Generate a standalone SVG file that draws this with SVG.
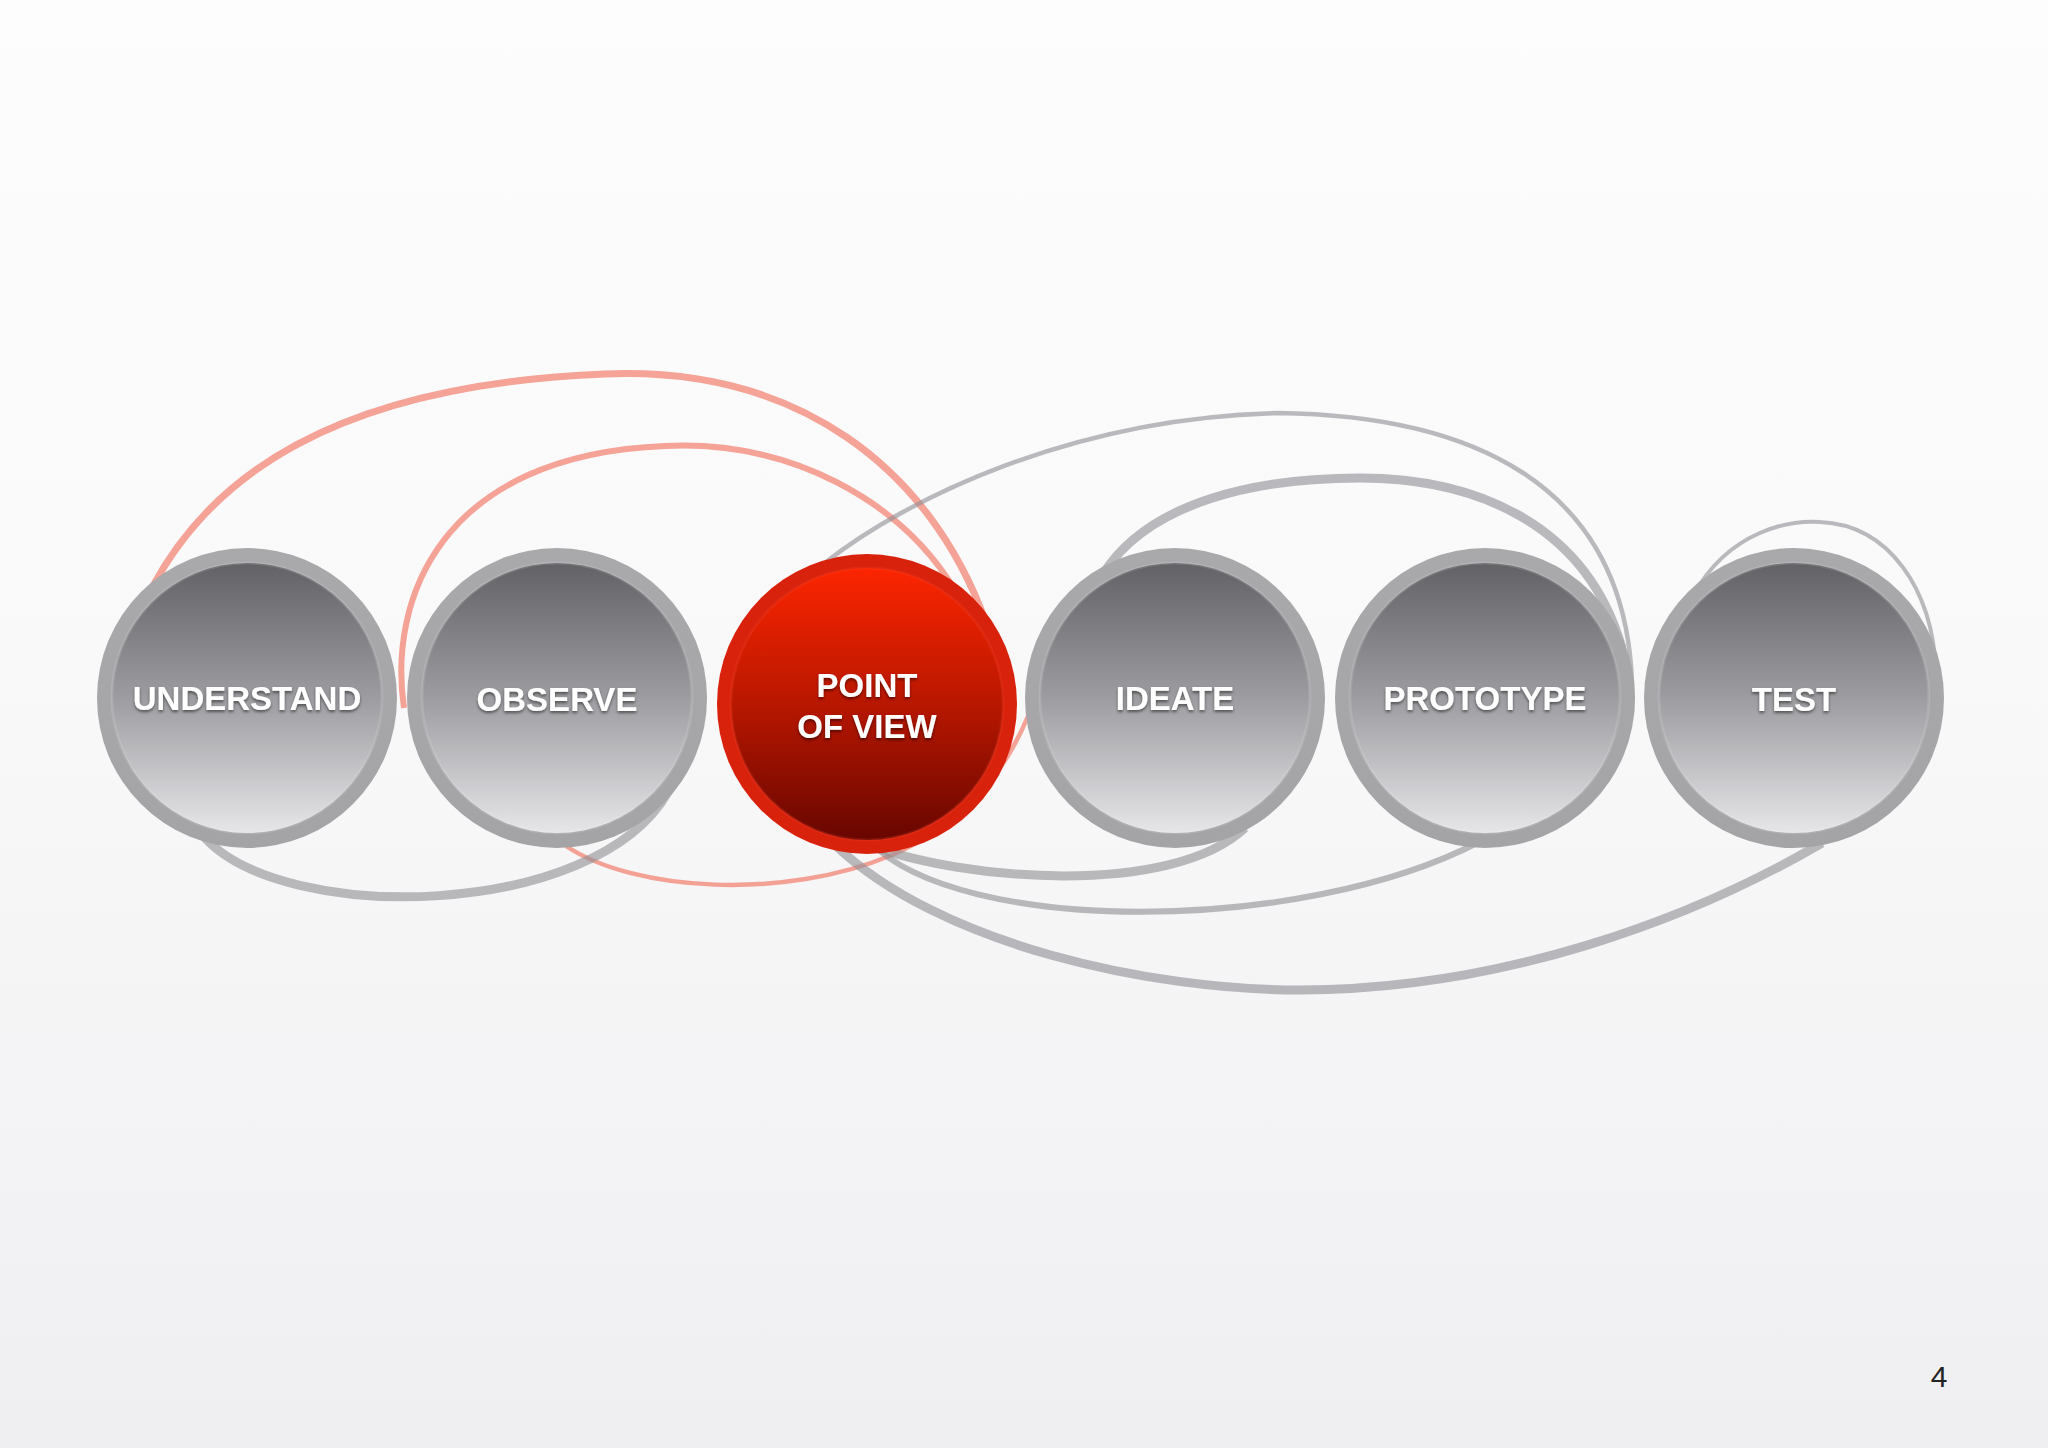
<svg xmlns="http://www.w3.org/2000/svg" width="2048" height="1448" viewBox="0 0 2048 1448">
  <defs>
    <linearGradient id="bg" x1="0" y1="0" x2="0" y2="1">
      <stop offset="0" stop-color="#fdfdfe"/>
      <stop offset="0.45" stop-color="#f9f9fa"/>
      <stop offset="1" stop-color="#efeef0"/>
    </linearGradient>
    <linearGradient id="grayFill" x1="0" y1="0" x2="0" y2="1">
      <stop offset="0" stop-color="#626165"/>
      <stop offset="0.5" stop-color="#9d9ca0"/>
      <stop offset="1" stop-color="#e6e5e8"/>
    </linearGradient>
    <linearGradient id="grayRing" x1="0" y1="0" x2="0" y2="1">
      <stop offset="0" stop-color="#a9a8ab"/>
      <stop offset="1" stop-color="#a4a3a6"/>
    </linearGradient>
    <linearGradient id="redFill" x1="0" y1="0" x2="0" y2="1">
      <stop offset="0" stop-color="#fc2500"/>
      <stop offset="0.5" stop-color="#b81700"/>
      <stop offset="1" stop-color="#680600"/>
    </linearGradient>
    <filter id="ts" x="-10%" y="-30%" width="120%" height="170%">
      <feDropShadow dx="0" dy="2" stdDeviation="1.6" flood-color="#000" flood-opacity="0.5"/>
    </filter>
    <style>
      .ring { fill: url(#grayRing); }
      .core { fill: url(#grayFill); stroke: #ffffff; stroke-opacity: 0.12; stroke-width: 3; }
      .rring { fill: #d9220c; }
      .rcore { fill: url(#redFill); stroke: #ff6040; stroke-opacity: 0.15; stroke-width: 3; }
      .lbl { font-family: "Liberation Sans", Arial, sans-serif; font-weight: bold; font-size: 33px; fill: #ffffff; text-anchor: middle; filter: url(#ts); }
      .red { fill: none; stroke: rgb(242,108,88); stroke-opacity: 0.62; stroke-linecap: butt; }
      .gry { fill: none; stroke: rgb(145,144,148); stroke-opacity: 0.62; stroke-linecap: butt; }
      .pg { font-family: "Liberation Sans", Arial, sans-serif; font-size: 30px; fill: #222222; text-anchor: middle; }
    </style>
  </defs>

  <rect x="0" y="0" width="2048" height="1448" fill="url(#bg)"/>

  <g id="connectors">
    <path class="red" stroke-width="7" d="M 153 586 C 210 480, 330 385, 605 374 C 800 366, 930 470, 985 620"/>
    <path class="red" stroke-width="6" d="M 404 708 C 388 600, 440 455, 665 446 C 790 440, 900 500, 955 590"/>
    <path class="red" stroke-width="4.5" d="M 566 846 C 635 892, 785 900, 892 855 C 950 830, 1000 785, 1028 716"/>
    <path class="gry" stroke-width="9" d="M 205 838 C 285 925, 595 920, 668 792"/>
    <path class="gry" stroke-width="4.5" d="M 826 562 C 905 500, 1070 418, 1277 413 C 1450 415, 1640 470, 1632 712"/>
    <path class="gry" stroke-width="9" d="M 1103 574 C 1150 500, 1260 478, 1360 478 C 1470 478, 1585 520, 1622 648"/>
    <path class="gry" stroke-width="4" d="M 1694 594 C 1730 530, 1790 520, 1820 522 C 1890 525, 1932 590, 1936 670"/>
    <path class="gry" stroke-width="9" d="M 870 845 C 960 880, 1170 898, 1245 828"/>
    <path class="gry" stroke-width="6" d="M 870 842 C 960 935, 1300 935, 1479 842"/>
    <path class="gry" stroke-width="9" d="M 835 845 C 940 945, 1150 990, 1300 990 C 1500 990, 1690 920, 1822 843"/>
  </g>

  <g id="understand">
    <circle class="ring" cx="247" cy="698" r="150"/>
    <circle class="core" cx="247" cy="698" r="135"/>
    <text class="lbl" x="247" y="710">UNDERSTAND</text>
  </g>
  <g id="observe">
    <circle class="ring" cx="557" cy="698" r="150"/>
    <circle class="core" cx="557" cy="698" r="135"/>
    <text class="lbl" x="557" y="711">OBSERVE</text>
  </g>
  <g id="point-of-view">
    <circle class="rring" cx="867" cy="704" r="150"/>
    <circle class="rcore" cx="867" cy="704" r="136"/>
    <text class="lbl" x="867" y="697">POINT</text>
    <text class="lbl" x="867" y="738">OF VIEW</text>
  </g>
  <g id="ideate">
    <circle class="ring" cx="1175" cy="698" r="150"/>
    <circle class="core" cx="1175" cy="698" r="135"/>
    <text class="lbl" x="1175" y="710">IDEATE</text>
  </g>
  <g id="prototype">
    <circle class="ring" cx="1485" cy="698" r="150"/>
    <circle class="core" cx="1485" cy="698" r="135"/>
    <text class="lbl" x="1485" y="710">PROTOTYPE</text>
  </g>
  <g id="test">
    <circle class="ring" cx="1794" cy="698" r="150"/>
    <circle class="core" cx="1794" cy="698" r="135"/>
    <text class="lbl" x="1794" y="711">TEST</text>
  </g>

  <text class="pg" x="1939" y="1387">4</text>
</svg>
